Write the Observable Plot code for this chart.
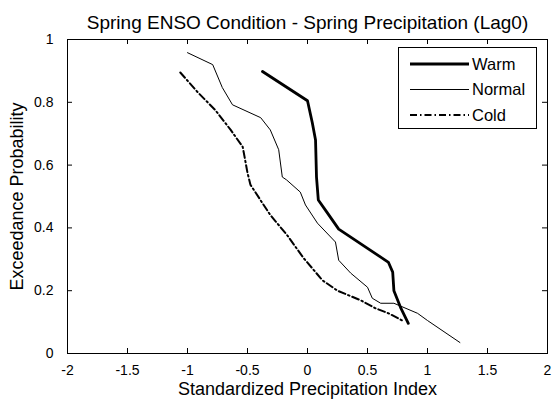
<!DOCTYPE html>
<html>
<head>
<meta charset="utf-8">
<script src="https://cdn.jsdelivr.net/npm/d3@7"></script>
<script src="https://cdn.jsdelivr.net/npm/@observablehq/plot@0.6"></script>
<style>
  body { margin: 0; background: #fff; }
  #wrap { position: relative; width: 554px; height: 403px; font-family: "Liberation Sans", Arial, sans-serif; }
  #legend { position: absolute; left: 398px; top: 47px; width: 139px; height: 82px; border: 1px solid #000; background: #fff; box-sizing: border-box; }
  #legend svg { position: absolute; left: 0; top: 0; }
</style>
</head>
<body>
<div id="wrap"></div>
<script>
const title = "Spring ENSO Condition - Spring Precipitation (Lag0)";
const xLabel = "Standardized Precipitation Index";
const yLabel = "Exceedance Probability";
const xTicks = [-2, -1.5, -1, -0.5, 0, 0.5, 1, 1.5, 2];
const yTicks = [0, 0.2, 0.4, 0.6, 0.8, 1];
const seriesNames = ["Warm", "Normal", "Cold"];

const warmX = [-0.375, 0.0, 0.04, 0.067, 0.075, 0.09, 0.167, 0.26, 0.61, 0.675, 0.71, 0.72, 0.775, 0.84];
const warmY = [0.898, 0.805, 0.735, 0.68, 0.562, 0.489, 0.447, 0.396, 0.307, 0.29, 0.259, 0.2, 0.147, 0.096];

const normalX = [-1.0, -0.79, -0.71, -0.625, -0.39, -0.31, -0.24, -0.21, -0.175, -0.06, -0.017, 0.083, 0.233, 0.26, 0.36, 0.5, 0.54, 0.61, 0.72, 0.917, 1.0, 1.27];
const normalY = [0.958, 0.92, 0.847, 0.792, 0.751, 0.712, 0.649, 0.562, 0.553, 0.514, 0.473, 0.415, 0.355, 0.297, 0.256, 0.211, 0.176, 0.16, 0.16, 0.128, 0.105, 0.035];

const coldX = [-1.06, -0.91, -0.77, -0.64, -0.54, -0.52, -0.5, -0.475, -0.31, -0.17, -0.033, 0.125, 0.25, 0.44, 0.567, 0.675, 0.79];
const coldY = [0.895, 0.83, 0.776, 0.712, 0.658, 0.617, 0.575, 0.537, 0.441, 0.377, 0.304, 0.233, 0.2, 0.17, 0.144, 0.128, 0.105];

const styles = {
  Warm: {strokeWidth: 2.8, dash: null},
  Normal: {strokeWidth: 1, dash: null},
  Cold: {strokeWidth: 2, dash: "7,3,1.5,3"}
};

const toRows = (xs, ys, name) => xs.map((x, i) => ({x, y: ys[i], name}));
const warm = toRows(warmX, warmY, "Warm");
const normal = toRows(normalX, normalY, "Normal");
const cold = toRows(coldX, coldY, "Cold");

const W = 554, H = 403, mL = 67, mR = 7, mT = 39, mB = 50;
const fw = W - mL - mR, fh = H - mT - mB;
const font = "\"Liberation Sans\", Arial, sans-serif";

const chart = Plot.plot({
  width: W, height: H,
  marginLeft: mL, marginRight: mR, marginTop: mT, marginBottom: mB,
  style: {fontFamily: font, fontSize: "14px", color: "#000", background: "#fff", overflow: "visible"},
  x: {domain: [-2, 2]},
  y: {domain: [0, 1]},
  marks: [
    Plot.tickX(xTicks, {x: d => d, insetTop: fh - 5, stroke: "#000"}),
    Plot.tickX(xTicks, {x: d => d, insetBottom: fh - 5, stroke: "#000"}),
    Plot.tickY(yTicks, {y: d => d, insetRight: fw - 5, stroke: "#000"}),
    Plot.tickY(yTicks, {y: d => d, insetLeft: fw - 5, stroke: "#000"}),
    Plot.line(normal, {x: "x", y: "y", stroke: "#000", strokeWidth: styles.Normal.strokeWidth}),
    Plot.line(cold, {x: "x", y: "y", stroke: "#000", strokeWidth: styles.Cold.strokeWidth, strokeDasharray: styles.Cold.dash}),
    Plot.line(warm, {x: "x", y: "y", stroke: "#000", strokeWidth: styles.Warm.strokeWidth}),
    Plot.frame({stroke: "#000", strokeWidth: 1}),
    Plot.axisX({ticks: xTicks, tickSize: 0, tickPadding: 12, tickFormat: d => String(d), label: null, fontSize: 14}),
    Plot.axisY({ticks: yTicks, tickSize: 0, tickPadding: 14, tickFormat: d => String(d), label: null, fontSize: 14}),
    Plot.text([title], {text: d => d, frameAnchor: "top", dy: -24, fontSize: 19, letterSpacing: 0.8}),
    Plot.text([xLabel], {text: d => d, frameAnchor: "bottom", dy: 41, fontSize: 18, letterSpacing: 0.3}),
    Plot.text([yLabel], {text: d => d, frameAnchor: "left", textAnchor: "middle", dx: -50, rotate: -90, fontSize: 18, letterSpacing: 0.3})
  ]
});

const wrap = document.getElementById("wrap");
wrap.appendChild(chart);

// Legend
const leg = document.createElement("div");
leg.id = "legend";
const ns = "http://www.w3.org/2000/svg";
const svg = document.createElementNS(ns, "svg");
svg.setAttribute("width", 139);
svg.setAttribute("height", 82);
seriesNames.forEach((name, i) => {
  const cy = 16 + i * 25.5;
  const line = document.createElementNS(ns, "line");
  line.setAttribute("x1", 11); line.setAttribute("x2", 70);
  line.setAttribute("y1", cy); line.setAttribute("y2", cy);
  line.setAttribute("stroke", "#000");
  line.setAttribute("stroke-width", styles[name].strokeWidth);
  if (styles[name].dash) line.setAttribute("stroke-dasharray", styles[name].dash);
  svg.appendChild(line);
  const t = document.createElementNS(ns, "text");
  t.setAttribute("x", 73); t.setAttribute("y", cy);
  t.setAttribute("dy", "0.35em");
  t.setAttribute("font-size", "16.5");
  t.setAttribute("font-family", font);
  t.textContent = name;
  svg.appendChild(t);
});
leg.appendChild(svg);
wrap.appendChild(leg);
</script>
</body>
</html>
